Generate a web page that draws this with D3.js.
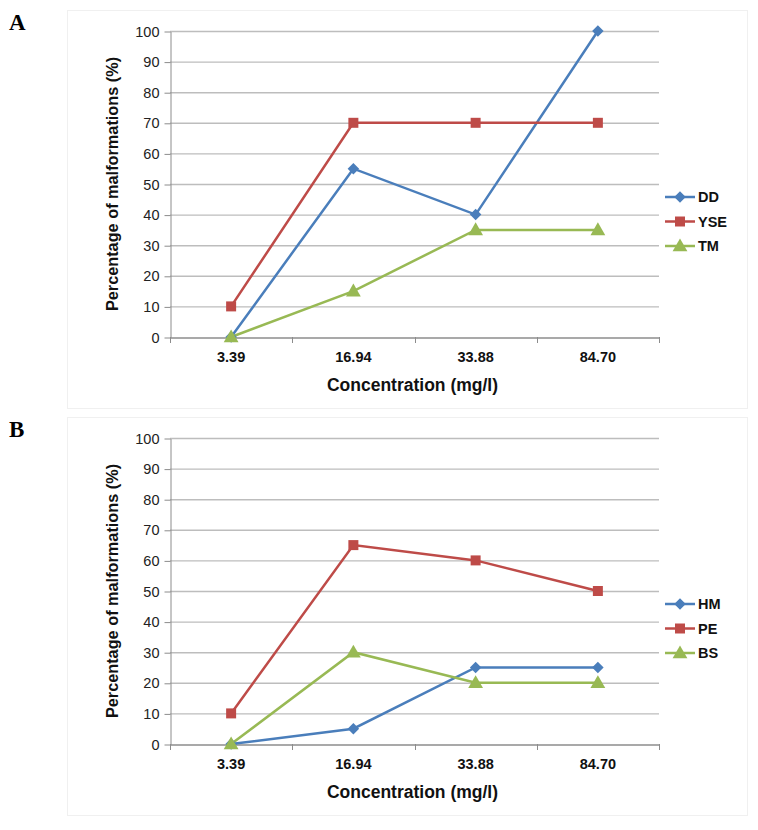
<!DOCTYPE html>
<html>
<head>
<meta charset="utf-8">
<script src="https://cdn.jsdelivr.net/npm/d3@7"></script>
<style>
  body { margin: 0; background: #fff; }
  svg { display: block; }
</style>
</head>
<body>
<div id="chart-container"></div>
<script>
// categories and series
const concentrations = ["3.39", "16.94", "33.88", "84.70"];
const yTicks = [0, 10, 20, 30, 40, 50, 60, 70, 80, 90, 100];

const ddValues = [0, 55, 40, 100];
const yseValues = [10, 70, 70, 70];
const tmValues = [0, 15, 35, 35];

const hmValues = [0, 5, 25, 25];
const peValues = [10, 65, 60, 50];
const bsValues = [0, 30, 20, 20];

const panelA = { letter: "A", names: ["DD", "YSE", "TM"], series: [ddValues, yseValues, tmValues] };
const panelB = { letter: "B", names: ["HM", "PE", "BS"], series: [hmValues, peValues, bsValues] };

const colors = ["#4a7ebb", "#be4b48", "#98b954"];
const shapes = [d3.symbolDiamond2, d3.symbolSquare, d3.symbolTriangle];
const sizes = [85, 100, 95];

const svg = d3.select("#chart-container")
    .append("svg")
    .attr("width", 758)
    .attr("height", 830);

function drawPanel(panel, top, frameH) {
    const g = svg.append("g").attr("transform", `translate(0, ${top})`);

    // faint panel frame
    g.append("rect")
        .attr("x", 67.5).attr("y", 0.5)
        .attr("width", 680).attr("height", frameH)
        .attr("fill", "#fff")
        .attr("stroke", "#f0f0f0");

    // panel letter
    g.append("text")
        .attr("x", 9).attr("y", 20)
        .style("font-family", "Liberation Serif, serif")
        .style("font-weight", "bold")
        .style("font-size", "23px")
        .text(panel.letter);

    const plot = { left: 170, right: 659, top: 21, bottom: 327 };

    const x = d3.scaleBand()
        .domain(concentrations)
        .range([plot.left, plot.right]);

    const y = d3.scaleLinear()
        .domain([0, 100])
        .range([plot.bottom, plot.top]);

    // gridlines
    g.selectAll(".grid")
        .data(yTicks.filter(d => d > 0))
        .join("line")
        .attr("x1", plot.left).attr("x2", plot.right)
        .attr("y1", d => y(d) + 0.5).attr("y2", d => y(d) + 0.5)
        .attr("stroke", "#bdbdbd")
        .attr("stroke-width", 1.4);

    // y axis
    g.append("g")
        .attr("transform", `translate(${plot.left + 0.5}, 0.5)`)
        .call(d3.axisLeft(y).tickValues(yTicks).tickSize(6).tickSizeOuter(0).tickPadding(5))
        .call(a => a.select(".domain").attr("stroke", "#8c8c8c"))
        .call(a => a.selectAll(".tick line").attr("stroke", "#8c8c8c"))
        .call(a => a.selectAll(".tick text")
            .attr("fill", "#222")
            .style("font-family", "Liberation Sans, Arial, sans-serif")
            .style("font-size", "14.5px"));

    // x axis
    g.append("g")
        .attr("transform", `translate(0, ${plot.bottom + 0.5})`)
        .call(d3.axisBottom(x).tickSize(0).tickPadding(14))
        .call(a => a.select(".domain").attr("stroke", "#8c8c8c").attr("stroke-width", 1.4))
        .call(a => a.selectAll(".tick text")
            .attr("fill", "#111")
            .style("font-family", "Liberation Sans, Arial, sans-serif")
            .style("font-weight", "bold")
            .style("font-size", "14.5px"));

    // category boundary ticks
    const bounds = concentrations.map(c => x(c)).concat([x(concentrations[3]) + x.bandwidth()]);
    g.selectAll(".xtick")
        .data(bounds)
        .join("line")
        .attr("x1", d => Math.round(d) + 0.5).attr("x2", d => Math.round(d) + 0.5)
        .attr("y1", plot.bottom).attr("y2", plot.bottom + 6)
        .attr("stroke", "#8c8c8c");

    const cx = c => x(c) + x.bandwidth() / 2;

    // lines
    panel.series.forEach((vals, i) => {
        const line = d3.line()
            .x((d, j) => cx(concentrations[j]))
            .y(d => y(d));
        g.append("path")
            .datum(vals)
            .attr("fill", "none")
            .attr("stroke", colors[i])
            .attr("stroke-width", 2.5)
            .attr("d", line);
    });

    // markers
    panel.series.forEach((vals, i) => {
        g.selectAll(`.m${i}`)
            .data(vals)
            .join("path")
            .attr("transform", (d, j) => `translate(${cx(concentrations[j])}, ${y(d) + (i === 2 ? 1 : 0)})`)
            .attr("d", d3.symbol().type(shapes[i]).size(sizes[i]))
            .attr("fill", colors[i]);
    });

    // y axis title
    g.append("text")
        .attr("transform", `translate(118, ${(plot.top + plot.bottom) / 2}) rotate(-90)`)
        .style("text-anchor", "middle")
        .style("font-family", "Liberation Sans, Arial, sans-serif")
        .style("font-weight", "bold")
        .style("font-size", "16.3px")
        .attr("fill", "#111")
        .text("Percentage of malformations (%)");

    // x axis title
    g.append("text")
        .attr("x", (plot.left + plot.right) / 2 - 2)
        .attr("y", plot.bottom + 54)
        .style("text-anchor", "middle")
        .style("font-family", "Liberation Sans, Arial, sans-serif")
        .style("font-weight", "bold")
        .style("font-size", "17.5px")
        .attr("fill", "#111")
        .text("Concentration (mg/l)");

    // legend
    const legend = g.append("g").attr("transform", `translate(665, ${plot.top + 166})`);
    panel.names.forEach((name, i) => {
        const row = legend.append("g").attr("transform", `translate(0, ${i * 24.5})`);
        row.append("line")
            .attr("x1", 0).attr("x2", 30)
            .attr("stroke", colors[i])
            .attr("stroke-width", 2.5);
        row.append("path")
            .attr("transform", `translate(15, ${i === 2 ? 1 : 0})`)
            .attr("d", d3.symbol().type(shapes[i]).size(sizes[i]))
            .attr("fill", colors[i]);
        row.append("text")
            .attr("x", 33).attr("y", 5)
            .style("font-family", "Liberation Sans, Arial, sans-serif")
            .style("font-weight", "bold")
            .style("font-size", "14.5px")
            .attr("fill", "#111")
            .text(name);
    });
}

drawPanel(panelA, 10, 398);
drawPanel(panelB, 417, 398);
</script>
</body>
</html>
